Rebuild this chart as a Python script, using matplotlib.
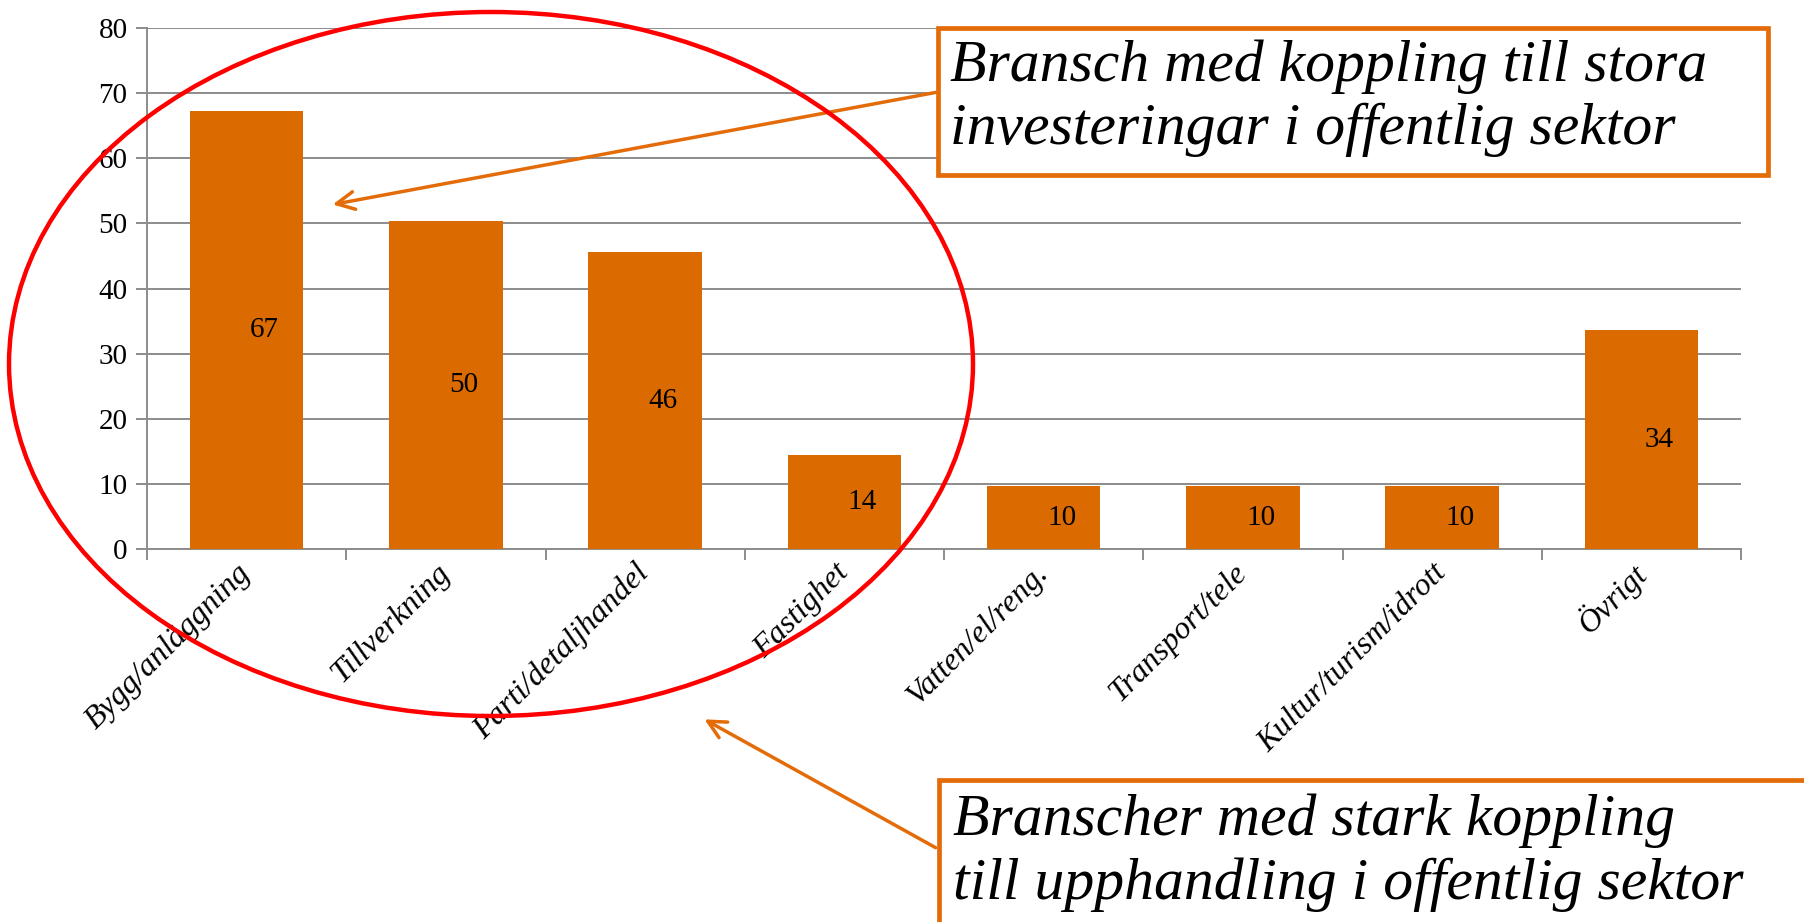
import matplotlib.pyplot as plt
from matplotlib.patches import Ellipse, Rectangle, FancyArrowPatch

# data
categories = [
    "Bygg/anläggning",
    "Tillverkning",
    "Parti/detaljhandel",
    "Fastighet",
    "Vatten/el/reng.",
    "Transport/tele",
    "Kultur/turism/idrott",
    "Övrigt",
]
values = [67.2, 50.4, 45.6, 14.4, 9.6, 9.6, 9.6, 33.6]
yticks = [0, 10, 20, 30, 40, 50, 60, 70, 80]

box1_lines = ["Bransch med koppling till stora", "investeringar i offentlig sektor"]
box2_lines = ["Branscher med stark koppling", "till upphandling i offentlig sektor"]

BAR = "#DB6A00"
ORANGE = "#E36C09"
GRID = "#8C8C8C"
W, H = 1804, 922


def fx(px):
    return px / W


def fy(py):
    return 1 - py / H


fig = plt.figure(figsize=(W / 100, H / 100), dpi=100)
ax = fig.add_axes([fx(147), fy(549), fx(1741) - fx(147), fy(28) - fy(549)])

x = list(range(len(categories)))
ax.bar(x, values, width=0.57, color=BAR, zorder=3)

for i, v in enumerate(values):
    ax.text(i + 0.09, v / 2, f"{round(v)}", ha="center", va="center",
            fontsize=21, family="Liberation Serif", zorder=4)

ax.set_xlim(-0.5, len(categories) - 0.5)
ax.set_ylim(0, 80)
ax.set_yticks(yticks)
ax.set_yticklabels([str(t) for t in yticks], fontsize=21, family="Liberation Serif")
ax.yaxis.grid(True, color=GRID, lw=1.4, zorder=0)
ax.set_axisbelow(True)

# category boundaries as major ticks, labels on minor ticks
ax.set_xticks([i - 0.5 for i in range(len(categories) + 1)])
ax.set_xticklabels([])
ax.set_xticks(x, minor=True)
ax.set_xticklabels(categories, minor=True, rotation=45, ha="right", va="center",
                   rotation_mode="anchor", fontsize=23, family="Liberation Serif",
                   style="italic")
ax.tick_params(axis="x", which="minor", length=0, pad=14)
ax.tick_params(axis="x", which="major", length=8, color=GRID, width=1.4)
ax.tick_params(axis="y", length=8, color=GRID, width=1.4, pad=6)

for s in ["top", "right"]:
    ax.spines[s].set_visible(False)
for s in ["left", "bottom"]:
    ax.spines[s].set_color(GRID)
    ax.spines[s].set_linewidth(1.4)

# red ellipse around the first four categories
fig.add_artist(Ellipse((fx(491), fy(364)), fx(964), 704 / H, fill=False,
                       edgecolor="#FF0000", lw=3.2, transform=fig.transFigure,
                       zorder=10))

# arrows
fig.add_artist(FancyArrowPatch((fx(938), fy(92)), (fx(330), fy(205)),
                               arrowstyle="->", mutation_scale=32, color=ORANGE,
                               lw=2.5, transform=fig.transFigure, zorder=9))
fig.add_artist(FancyArrowPatch((fx(938), fy(849)), (fx(702), fy(718)),
                               arrowstyle="->", mutation_scale=32, color=ORANGE,
                               lw=2.5, transform=fig.transFigure, zorder=9))

# text boxes
fig.add_artist(Rectangle((fx(938), fy(175)), fx(1768) - fx(938), 147 / H,
                         fill=True, facecolor="white", edgecolor=ORANGE, lw=3.4,
                         transform=fig.transFigure, zorder=11))
fig.add_artist(Rectangle((fx(939), fy(940)), fx(1830) - fx(939), 160 / H,
                         fill=True, facecolor="white", edgecolor=ORANGE, lw=3.4,
                         transform=fig.transFigure, zorder=11))

for line, yb in zip(box1_lines, [81, 144]):
    fig.text(fx(950), fy(yb), line, ha="left", va="baseline", fontsize=43,
             family="Liberation Serif", style="italic", zorder=12)
for line, yb in zip(box2_lines, [835, 899]):
    fig.text(fx(953), fy(yb), line, ha="left", va="baseline", fontsize=43,
             family="Liberation Serif", style="italic", zorder=12)

fig.savefig("out.png", dpi=100)
